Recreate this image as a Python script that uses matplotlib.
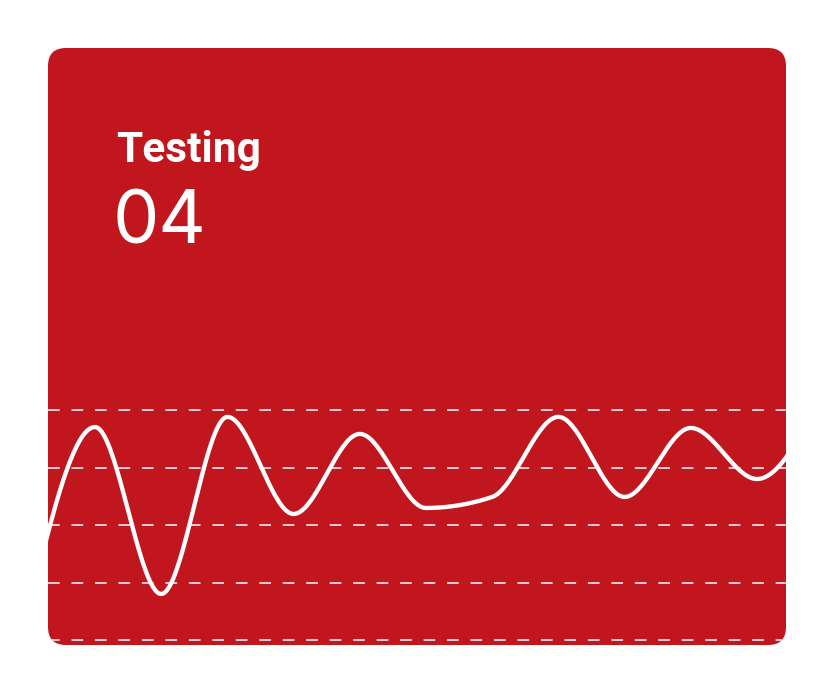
import matplotlib
matplotlib.use("Agg")
import matplotlib.pyplot as plt
import numpy as np
from matplotlib.patches import FancyBboxPatch

# data (0-100 scale, one point per step)
idx = list(range(13))
values = [12.8, 92.6, 20.0, 97.0, 54.8, 89.6, 57.4, 62.2, 97.0, 62.2, 92.2, 70.0, 108.0]
grid_vals = [0, 25, 50, 75, 100]
title = "Testing"
count = "04"

RED = "#C1161D"
W, H = 832, 691


def monotone_x(x, y, n=40):
    # same as d3.curveMonotoneX (Steffen)
    x = np.asarray(x, float)
    y = np.asarray(y, float)
    h = np.diff(x)
    s = np.diff(y) / h
    m = np.zeros(len(x))
    for k in range(1, len(x) - 1):
        p = (s[k - 1] * h[k] + s[k] * h[k - 1]) / (h[k - 1] + h[k])
        m[k] = (np.sign(s[k - 1]) + np.sign(s[k])) * min(abs(s[k - 1]), abs(s[k]), 0.5 * abs(p))
    m[0] = (3 * s[0] - m[1]) / 2
    m[-1] = (3 * s[-1] - m[-2]) / 2
    xs, ys = [], []
    for k in range(len(x) - 1):
        t = np.linspace(0, 1, n)
        h00 = 2 * t**3 - 3 * t**2 + 1
        h10 = t**3 - 2 * t**2 + t
        h01 = -2 * t**3 + 3 * t**2
        h11 = t**3 - t**2
        xs.append(x[k] + t * h[k])
        ys.append(h00 * y[k] + h10 * h[k] * m[k] + h01 * y[k + 1] + h11 * h[k] * m[k + 1])
    return np.concatenate(xs), np.concatenate(ys)


fig = plt.figure(figsize=(W / 100, H / 100), dpi=100)
fig.patch.set_facecolor("white")

bg = fig.add_axes([0, 0, 1, 1])
bg.set_xlim(0, W)
bg.set_ylim(H, 0)
bg.axis("off")
card = FancyBboxPatch((48 + 18, 48 + 18), 738 - 36, 597 - 36,
                      boxstyle="round,pad=18", fc=RED, ec="none")
bg.add_patch(card)

# chart area inside the card
top_px, bot_px = 395, 645
ax = fig.add_axes([48 / W, (H - bot_px) / H, 738 / W, (bot_px - top_px) / H])
ax.patch.set_alpha(0)
unit = 230 / 100.0
ax.set_ylim(-5 / unit, (640 - top_px) / unit)
ax.set_xlim((48 - 28.8) / 66.2, (786 - 28.8) / 66.2)
for sp in ax.spines.values():
    sp.set_visible(False)
ax.set_xticks([])
ax.set_yticks([])

for g in grid_vals:
    gl = ax.axhline(g, color="#DCDCE4", lw=1.3, ls=(0, (6.5, 6.5)), zorder=1)
    gl.set_clip_path(card)

sx, sy = monotone_x(idx, values)
ln, = ax.plot(sx, sy, color="white", lw=3.1, solid_capstyle="round", zorder=3)
ln.set_clip_path(card)

fig.text(116 / W, 1 - 162 / H, title, color="white", fontsize=30.5,
         fontfamily="Roboto", fontweight="bold", va="baseline", ha="left")
fig.text(113 / W, 1 - 244 / H, count, color="white", fontsize=53,
         fontfamily=["Inter", "Roboto"], va="baseline", ha="left")

fig.savefig("out.png", dpi=100, facecolor="white")
